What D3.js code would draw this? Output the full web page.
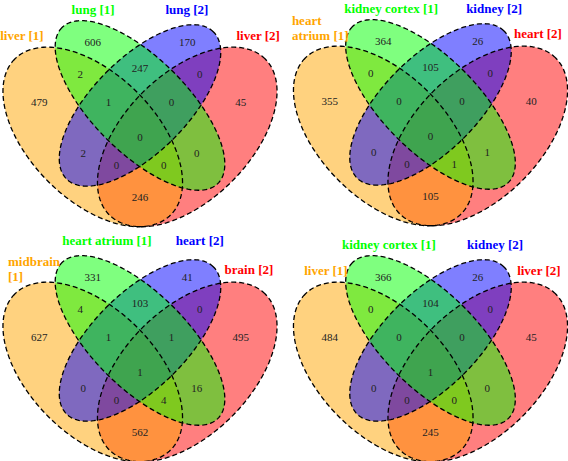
<!DOCTYPE html>
<html><head><meta charset="utf-8">
<script src="https://cdn.jsdelivr.net/npm/d3@7"></script>
<style>body{margin:0;background:#fff}</style>
</head><body>
<svg id="c" width="568" height="461"></svg>
<script>
// ---- data ----
const setNamesA = ["liver [1]", "lung [1]", "lung [2]", "liver [2]"];
const setNamesB = ["heart\natrium [1]", "kidney cortex [1]", "kidney [2]", "heart [2]"];
const setNamesC = ["midbrain\n[1]", "heart atrium [1]", "heart [2]", "brain [2]"];
const setNamesD = ["liver [1]", "kidney cortex [1]", "kidney [2]", "liver [2]"];
// region keys: O = set 1, G = set 2, B = set 3, R = set 4
const regionKeys = ["G","B","O","R","OG","GB","BR","OGB","GBR","OGBR","OB","GR","OBR","OGR","OR"];
const countsA = [606, 170, 479, 45, 2, 247, 0, 1, 0, 0, 2, 0, 0, 0, 246];
const countsB = [364, 26, 355, 40, 0, 105, 0, 0, 0, 0, 0, 1, 0, 1, 105];
const countsC = [331, 41, 627, 495, 4, 103, 0, 1, 1, 1, 0, 16, 0, 4, 562];
const countsD = [366, 26, 484, 45, 0, 104, 0, 0, 0, 1, 0, 0, 0, 0, 245];

// ---- layout / style ----
const setColors = ["#FFA500", "#00FF00", "#0000FF", "#FF0000"];
const ellipses = [
  {x:0.35, y:0.47, a:0.35, b:0.20, rot:135},
  {x:0.50, y:0.57, a:0.35, b:0.15, rot:135},
  {x:0.50, y:0.57, a:0.33, b:0.15, rot:45},
  {x:0.65, y:0.47, a:0.35, b:0.20, rot:45}
];
const drawOrder = [3, 0, 2, 1];
const regionPos = {G:[0.35,0.77], B:[0.65,0.77], O:[0.18,0.58], R:[0.82,0.58],
  OG:[0.31,0.67], GB:[0.5,0.69], BR:[0.69,0.67], OGB:[0.40,0.58], GBR:[0.60,0.58],
  OGBR:[0.5,0.47], OB:[0.32,0.42], GR:[0.68,0.42], OBR:[0.425,0.38], OGR:[0.575,0.38], OR:[0.5,0.28]};
const S = 315;
const panels = [
  {names:setNamesA, counts:countsA, x0:-17.5, y0:285,
   lab:[[0.125,0.794,"middle"],[0.351,0.876,"middle"],[0.649,0.876,"middle"],[0.875,0.794,"middle"]]},
  {names:setNamesB, counts:countsB, x0:273, y0:284,
   lab:[[0.060,0.838,"start"],[0.375,0.876,"middle"],[0.702,0.876,"middle"],[0.841,0.797,"middle"]]},
  {names:setNamesC, counts:countsC, x0:-17.5, y0:520,
   lab:[[0.081,0.822,"start"],[0.395,0.889,"middle"],[0.690,0.889,"middle"],[0.846,0.797,"middle"]]},
  {names:setNamesD, counts:countsD, x0:273, y0:520,
   lab:[[0.168,0.794,"middle"],[0.368,0.876,"middle"],[0.705,0.876,"middle"],[0.844,0.794,"middle"]]}
];

const svg = d3.select("#c");
const N = 200;
panels.forEach(p => {
  const x = d3.scaleLinear().domain([0,1]).range([p.x0, p.x0 + S]);
  const y = d3.scaleLinear().domain([0,1]).range([p.y0, p.y0 - S]);
  const g = svg.append("g");
  const line = d3.line().x(d => x(d[0])).y(d => y(d[1])).curve(d3.curveLinearClosed);
  const pts = e => {
    const th = e.rot * Math.PI / 180;
    return d3.range(N).map(i => {
      const t = 2 * Math.PI * i / N;
      return [e.x + e.a*Math.cos(t)*Math.cos(th) - e.b*Math.sin(t)*Math.sin(th),
              e.y + e.a*Math.cos(t)*Math.sin(th) + e.b*Math.sin(t)*Math.cos(th)];
    });
  };
  drawOrder.forEach(i => {
    g.append("path").attr("d", line(pts(ellipses[i])))
      .attr("fill", setColors[i]).attr("fill-opacity", 0.5).attr("stroke", "none");
  });
  drawOrder.forEach(i => {
    g.append("path").attr("d", line(pts(ellipses[i])))
      .attr("fill", "none").attr("stroke", "#000").attr("stroke-width", 1.3)
      .attr("stroke-dasharray", "5,3");
  });
  regionKeys.forEach((k, j) => {
    g.append("text").attr("x", x(regionPos[k][0])).attr("y", y(regionPos[k][1]))
      .attr("text-anchor", "middle").attr("dominant-baseline", "central")
      .attr("font-family", "Liberation Serif, Times New Roman, serif").attr("font-size", 11)
      .attr("fill", "#222").text(p.counts[j]);
  });
  p.names.forEach((nm, i) => {
    const [u, v, anc] = p.lab[i];
    const t = g.append("text").attr("x", x(u)).attr("y", y(v))
      .attr("text-anchor", anc).attr("dominant-baseline", "central")
      .attr("font-family", "Liberation Serif, Times New Roman, serif")
      .attr("font-weight", "bold").attr("font-size", 13).attr("fill", setColors[i]);
    nm.split("\n").forEach((ln, li) => {
      t.append("tspan").attr("x", x(u)).attr("dy", li === 0 ? 0 : 15).text(ln);
    });
  });
});
</script>
</body></html>
